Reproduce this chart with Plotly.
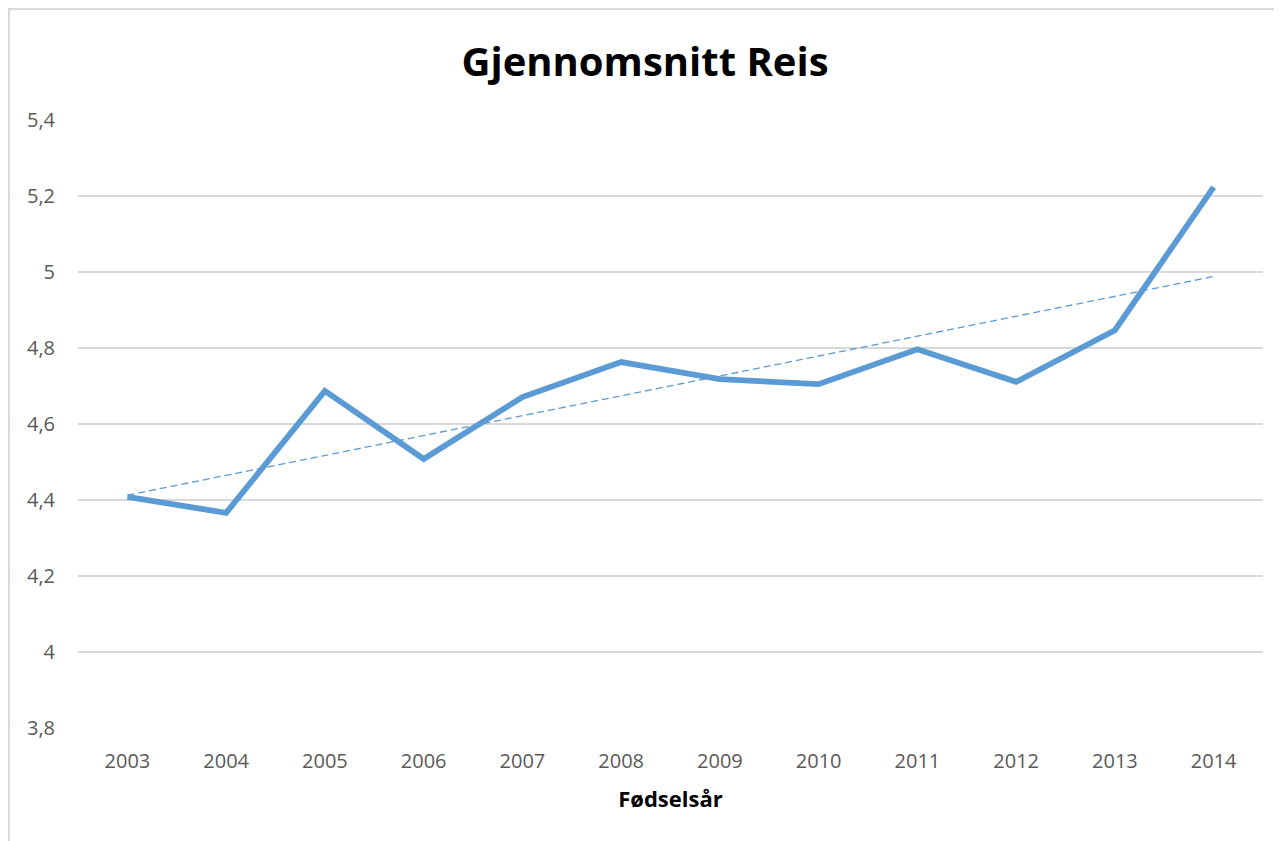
import numpy as np
import plotly.graph_objects as go

years = ["2003", "2004", "2005", "2006", "2007", "2008",
         "2009", "2010", "2011", "2012", "2013", "2014"]
values = [4.408, 4.366, 4.687, 4.508, 4.671, 4.763,
          4.718, 4.705, 4.797, 4.711, 4.847, 5.224]
y_ticks = [3.8, 4.0, 4.2, 4.4, 4.6, 4.8, 5.0, 5.2, 5.4]
y_tick_labels = ["3,8", "4", "4,2", "4,4", "4,6", "4,8", "5", "5,2", "5,4"]

title_text = "Gjennomsnitt Reis"
x_title = "Fødselsår"

# linear trendline (least squares over category index)
idx = np.arange(len(values))
slope, intercept = np.polyfit(idx, values, 1)
trend = slope * idx + intercept

line_color = "#5B9BD5"
grid_color = "#D9D9D9"
tick_color = "#595959"

W, H = 1274, 833
L, R, T, B = 70, 19, 112, 113
pw, ph = W - L - R, H - T - B

fig = go.Figure()
fig.add_trace(go.Scatter(
    x=years, y=values, mode="lines",
    line=dict(color=line_color, width=5.8, shape="linear"),
    showlegend=False, hoverinfo="x+y",
))
fig.add_trace(go.Scatter(
    x=years, y=trend, mode="lines",
    line=dict(color=line_color, width=1.3, dash="7px,4px"),
    showlegend=False, hoverinfo="skip",
))

fig.update_layout(
    width=W, height=H,
    margin=dict(l=L, r=R, t=T, b=B),
    paper_bgcolor="white", plot_bgcolor="white",
    title=dict(text="<b>" + title_text + "</b>", x=0.5, xanchor="center",
               y=1 - 54 / H, yanchor="middle",
               font=dict(family="Open Sans", size=40, color="black")),
    font=dict(family="Open Sans", color=tick_color),
    xaxis=dict(
        type="category", range=[-0.5, len(years) - 0.5],
        showgrid=False, showline=False, zeroline=False,
        tickfont=dict(family="Open Sans", size=20, color=tick_color),
        ticks="", ticklabelstandoff=19,
        title=dict(text="<b>" + x_title + "</b>", standoff=18,
                   font=dict(family="Open Sans", size=22, color="black")),
    ),
    yaxis=dict(
        range=[3.7995, 5.4005], tickvals=y_ticks, ticktext=y_tick_labels,
        showgrid=True, gridcolor=grid_color, gridwidth=1.8,
        showline=False, zeroline=False, ticks="",
        ticklabelstandoff=22,
        tickfont=dict(family="Open Sans", size=20, color=tick_color),
    ),
    shapes=[dict(
        type="rect", xref="paper", yref="paper",
        x0=(0.8 - L) / pw, x1=(W + 20 - L) / pw,
        y0=(ph - (H + 20 - T)) / ph, y1=(ph + T - 0.8) / ph,
        line=dict(color=grid_color, width=2.5), fillcolor="rgba(0,0,0,0)",
        layer="below",
    )],
)

fig.write_html("out.html")
